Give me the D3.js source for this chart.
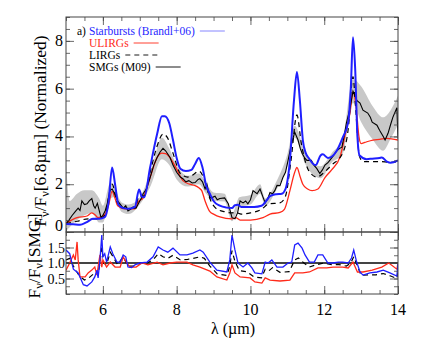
<!DOCTYPE html>
<html>
<head>
<meta charset="utf-8">
<script src="https://cdn.jsdelivr.net/npm/d3@7"></script>
<style>
  body { margin: 0; background: #fff; }
</style>
</head>
<body>
<script>
// ---- data ----
// top panel: flux normalised at 6.8um
const sbWave = [5.0,5.2,5.38,5.55,5.73,5.9,6.05,6.15,6.25,6.33,6.42,6.55,6.7,6.87,6.98,7.05,7.12,7.28,7.47,7.6,7.68,7.8,7.9,8.0,8.1,8.25,8.4,8.5,8.6,8.7,8.8,8.9,9.0,9.17,9.35,9.5,9.58,9.66,9.75,9.9,10.1,10.3,10.45,10.53,10.7,10.85,10.95,11.07,11.18,11.26,11.34,11.42,11.5,11.58,11.7,11.77,11.9,11.96,12.1,12.2,12.34,12.5,12.65,12.72,12.78,12.84,12.9,12.96,13.15,13.3,13.5,13.56,13.7,13.8,14.0]
const sbFlux = [0.34,0.32,0.3,0.4,0.55,0.55,0.62,1.2,2.7,2.0,1.15,1.0,0.97,1.05,1.78,1.5,1.45,2.7,4.1,4.85,4.85,4.55,3.85,3.1,2.65,2.55,2.6,2.85,3.1,2.7,1.95,1.6,1.3,1.1,1.02,1.0,1.12,1.14,1.05,1.05,1.05,1.1,1.35,1.5,1.58,1.6,1.8,3.0,5.5,6.7,5.5,3.85,3.3,3.1,2.85,2.8,3.2,3.25,3.1,3.15,3.4,3.95,4.6,6.0,8.15,6.8,4.0,3.2,3.05,3.07,3.1,3.12,2.95,2.9,3.0]

const ulWave = [5.0,5.15,5.3,5.57,5.7,5.8,5.87,6.06,6.15,6.25,6.32,6.4,6.6,6.87,6.95,7.09,7.28,7.47,7.6,7.7,7.8,7.95,8.17,8.35,8.5,8.6,8.68,8.77,8.9,9.0,9.17,9.5,9.6,9.72,10.0,10.34,10.53,10.8,10.92,11.07,11.2,11.26,11.35,11.42,11.55,11.67,11.83,12.02,12.2,12.43,12.6,12.7,12.78,12.86,12.94,13.0,13.1,13.32,13.5,13.7,14.0]
const ulFlux = [0.38,0.5,0.6,0.67,0.8,0.7,0.6,0.75,1.1,1.7,1.45,1.1,0.97,0.97,1.25,1.43,2.28,3.12,3.3,3.28,3.15,2.78,2.15,2.0,1.94,1.85,1.73,1.3,0.85,0.75,0.63,0.55,0.6,0.5,0.5,0.6,0.75,0.82,0.95,1.73,2.5,2.7,2.3,2.0,1.8,1.73,1.8,2.28,2.6,3.15,4.3,5.0,5.86,5.3,4.0,3.7,3.75,3.85,3.88,3.92,3.85]

const lgWave = [5.0,5.3,5.6,5.9,6.05,6.25,6.4,6.6,6.87,6.98,7.1,7.28,7.47,7.63,7.75,7.9,8.1,8.3,8.45,8.6,8.75,8.9,9.1,9.3,9.5,9.6,9.75,10.0,10.3,10.5,10.8,10.95,11.1,11.26,11.38,11.58,11.8,12.0,12.2,12.5,12.65,12.78,12.86,12.95,13.05,13.2,13.5,13.8,14.0]
const lgFlux = [0.35,0.45,0.55,0.55,0.7,2.0,1.2,1.0,1.0,1.5,1.5,2.5,3.6,4.1,3.95,3.3,2.45,2.3,2.4,2.55,2.2,1.4,0.95,0.85,0.8,0.82,0.75,0.8,0.95,1.18,1.22,1.5,3.0,4.9,3.7,2.57,2.3,2.5,2.8,3.3,4.3,6.5,5.0,3.2,2.95,2.95,2.95,2.92,2.95]

const smWave = [5.0,5.08,5.16,5.25,5.33,5.38,5.43,5.5,5.57,5.63,5.7,5.75,5.79,5.85,5.9,5.95,6.0,6.06,6.12,6.19,6.25,6.32,6.4,6.55,6.62,6.68,6.75,6.82,6.9,7.0,7.05,7.09,7.18,7.28,7.38,7.47,7.55,7.63,7.7,7.82,7.9,8.0,8.1,8.17,8.25,8.33,8.42,8.5,8.58,8.63,8.7,8.77,8.82,8.9,8.97,9.04,9.1,9.17,9.3,9.4,9.5,9.58,9.65,9.72,9.8,9.87,9.93,10.0,10.07,10.18,10.26,10.33,10.4,10.47,10.53,10.6,10.66,10.72,10.8,10.88,10.95,11.02,11.1,11.2,11.29,11.35,11.4,11.47,11.53,11.65,11.72,11.8,11.88,11.95,12.02,12.1,12.15,12.25,12.34,12.42,12.48,12.55,12.6,12.7,12.78,12.89,12.97,13.05,13.18,13.25,13.3,13.43,13.5,13.6,13.65,13.73,13.8,13.86,13.97,14.0]
const smFlux = [0.34,0.5,0.68,0.85,1.0,0.9,1.3,1.15,1.18,1.3,1.4,1.1,1.0,1.2,0.9,0.6,0.7,0.88,1.2,1.73,1.8,1.6,1.3,1.0,1.1,0.88,0.95,1.05,1.0,1.3,1.43,1.6,1.8,2.28,2.8,3.12,3.35,3.5,3.4,3.12,2.8,2.5,2.3,2.23,2.1,2.15,2.05,2.07,2.2,2.23,2.1,1.8,2.0,1.43,1.45,1.5,1.35,1.4,1.43,1.18,0.6,0.55,0.8,1.3,1.22,1.3,1.18,1.35,1.73,1.6,1.8,1.5,1.22,1.4,1.65,1.6,1.73,1.95,1.94,2.28,2.5,3.0,3.6,4.18,3.85,3.5,3.3,3.1,3.0,3.0,2.8,2.65,2.45,2.6,2.8,2.9,3.0,3.2,3.4,3.5,3.55,4.1,4.55,5.2,5.9,5.5,5.4,5.1,4.98,4.8,4.6,4.47,4.26,4.0,3.85,4.13,4.5,4.8,5.2,3.9]

// grey band round the SMG spectrum
const bandWave = [5.0,5.04,5.1,5.3,5.5,5.7,5.9,6.0,6.2,6.3,6.5,6.7,7.0,7.3,7.6,7.8,8.0,8.3,8.6,8.8,9.0,9.3,9.5,9.7,10.0,10.26,10.4,10.7,11.0,11.2,11.5,11.9,12.2,12.5,12.78,13.0,13.3,13.6,13.8,14.0]
const bandLo = [0.0,0.1,0.2,0.5,0.7,0.8,0.4,0.4,1.4,1.45,0.85,0.75,1.15,1.95,3.05,2.8,2.2,1.9,2.0,1.6,1.3,1.28,0.45,1.05,1.15,1.6,1.1,1.75,2.75,3.95,2.8,2.25,2.9,3.25,5.4,4.6,3.9,3.4,3.9,4.5]
const bandHi = [3.6,2.0,1.3,1.6,1.75,1.75,1.4,1.1,2.05,1.9,1.25,1.15,1.45,2.55,3.95,3.5,2.8,2.35,2.45,2.05,1.65,1.6,0.75,1.45,1.55,2.0,1.4,2.1,3.25,4.45,3.25,2.75,3.3,3.9,6.4,6.1,5.3,4.8,5.1,5.7]

// bottom panel: ratio to the SMG spectrum
const sbRatioWave = [5.0,5.1,5.2,5.33,5.47,5.57,5.7,5.78,5.84,5.87,5.92,5.97,6.0,6.05,6.1,6.2,6.27,6.38,6.47,6.55,6.62,6.68,6.78,6.87,7.0,7.2,7.36,7.5,7.63,7.76,7.9,8.09,8.28,8.44,8.63,8.72,8.9,9.09,9.36,9.44,9.5,9.58,9.66,9.8,9.93,10.04,10.12,10.31,10.4,10.48,10.58,10.72,10.88,11.02,11.12,11.2,11.29,11.4,11.48,11.6,11.73,11.83,11.96,12.1,12.24,12.38,12.5,12.65,12.74,12.8,12.88,12.97,13.05,13.24,13.43,13.6,13.78,13.97,14.0]
const sbRatio = [1.42,1.3,0.8,0.68,0.3,0.26,0.39,0.55,0.77,0.52,1.1,1.9,1.2,1.3,1.03,1.52,1.3,1.03,1.03,1.26,1.2,0.87,0.85,0.94,1.0,1.03,1.2,1.52,1.42,1.35,1.48,1.26,1.26,1.32,1.42,1.35,1.03,0.77,0.71,1.1,1.9,1.42,1.0,0.87,1.0,0.84,0.68,0.65,1.03,1.0,1.1,0.87,0.87,1.0,1.03,1.58,1.64,1.48,1.26,1.03,1.03,1.26,1.26,1.0,1.0,1.03,1.03,1.0,1.16,1.42,1.03,0.71,0.61,0.68,0.71,0.77,0.68,0.58,1.0]

const ulRatioWave = [5.0,5.1,5.2,5.25,5.3,5.33,5.38,5.52,5.6,5.7,5.78,5.84,5.87,5.92,5.97,6.0,6.1,6.2,6.33,6.47,6.55,6.65,6.73,6.9,7.06,7.22,7.47,7.63,7.82,8.0,8.28,8.44,8.63,8.9,9.09,9.36,9.44,9.5,9.58,9.72,9.99,10.12,10.31,10.4,10.53,10.8,11.07,11.2,11.42,11.6,11.83,12.07,12.24,12.5,12.65,12.78,12.9,13.05,13.3,13.56,13.75,13.97,14.0]
const ulRatio = [0.77,1.0,1.26,1.1,1.68,1.1,0.55,0.55,0.68,0.77,0.87,0.61,0.87,1.26,0.87,1.1,0.87,1.03,0.87,0.87,1.2,1.0,0.87,0.87,1.0,0.94,1.03,0.94,1.0,1.03,1.03,0.94,0.87,0.74,0.55,0.45,0.68,0.94,0.68,0.55,0.52,0.39,0.35,0.52,0.45,0.42,0.45,0.68,0.68,0.71,0.84,0.84,0.87,0.87,0.84,1.03,0.71,0.71,0.77,0.87,1.0,0.8,1.0]

const lgRatioWave = [5.0,5.1,5.2,5.35,5.5,5.6,5.7,5.8,5.87,5.92,5.97,6.02,6.1,6.2,6.3,6.4,6.55,6.68,6.85,7.0,7.2,7.36,7.5,7.63,7.76,7.9,8.1,8.3,8.45,8.63,8.75,8.9,9.1,9.36,9.44,9.5,9.58,9.7,9.9,10.1,10.3,10.4,10.5,10.6,10.8,11.05,11.2,11.3,11.45,11.6,11.8,12.0,12.2,12.4,12.6,12.72,12.8,12.9,13.0,13.2,13.4,13.6,13.8,13.97,14.0]
const lgRatio = [1.1,1.15,0.9,0.6,0.45,0.5,0.6,0.7,0.6,1.0,1.5,1.0,0.95,1.35,1.15,0.95,1.2,0.9,0.9,1.0,1.0,1.1,1.3,1.2,1.15,1.25,1.1,1.12,1.15,1.2,1.15,0.9,0.65,0.6,0.9,1.4,1.05,0.75,0.72,0.55,0.52,0.8,0.75,0.85,0.7,0.72,1.1,1.16,1.0,0.87,0.95,1.0,0.95,0.95,0.9,1.0,1.2,0.9,0.6,0.62,0.62,0.66,0.58,0.5,0.75]

const xTicks = [6, 8, 10, 12, 14]
const topTicks = [0, 2, 4, 6, 8]
const botTicks = [0.5, 1.0, 1.5]

const legendItems = [
    {label: "Starbursts (Brandl+06)", color: "#1f1fff", dash: null, len: 25},
    {label: "ULIRGs", color: "#ff2a1a", dash: null, len: 25},
    {label: "LIRGs", color: "#000", dash: "5,4", len: 33},
    {label: "SMGs (M09)", color: "#000", dash: null, len: 25}
]

// ---- layout ----
const width = 443, height = 346
const left = 66, right = 398
const topY0 = 17, topY1 = 232, botY1 = 294
const serif = "'Liberation Serif', 'Times New Roman', Tinos, 'DejaVu Serif', serif"

let svg = d3.select("body").append("svg")
    .attr("width", width)
    .attr("height", height)
    .attr("font-family", serif)
    .style("font-family", serif)

let x = d3.scaleLinear().domain([5, 14]).range([left, right])
let yTop = d3.scaleLinear().domain([0, 9]).range([topY1, topY0])
let yBot = d3.scaleLinear().domain([0, 2]).range([botY1, topY1])

svg.append("clipPath").attr("id", "clipTop")
    .append("rect").attr("x", left).attr("y", topY0).attr("width", right - left).attr("height", topY1 - topY0)
svg.append("clipPath").attr("id", "clipBot")
    .append("rect").attr("x", left).attr("y", topY1).attr("width", right - left).attr("height", botY1 - topY1)

function zipped(w, v) { return w.map((d, i) => [d, v[i]]) }

// ---- top panel ----
let topPanel = svg.append("g").attr("clip-path", "url(#clipTop)")

let band = bandWave.map((d, i) => ({w: d, lo: bandLo[i], hi: bandHi[i]}))
topPanel.append("path")
    .datum(band)
    .attr("fill", "#c8c8c8")
    .attr("d", d3.area().x(d => x(d.w)).y0(d => yTop(d.lo)).y1(d => yTop(d.hi)).curve(d3.curveMonotoneX))

let smoothTop = d3.line().x(d => x(d[0])).y(d => yTop(d[1])).curve(d3.curveMonotoneX)
let rawTop = d3.line().x(d => x(d[0])).y(d => yTop(d[1]))

topPanel.append("path").datum(zipped(ulWave, ulFlux))
    .attr("fill", "none").attr("stroke", "#ff2a1a").attr("stroke-width", 1.3).attr("d", smoothTop)
topPanel.append("path").datum(zipped(lgWave, lgFlux))
    .attr("fill", "none").attr("stroke", "#000").attr("stroke-width", 1.2)
    .attr("stroke-dasharray", "5,4").attr("d", smoothTop)
topPanel.append("path").datum(zipped(smWave, smFlux))
    .attr("fill", "none").attr("stroke", "#000").attr("stroke-width", 1.1).attr("d", rawTop)
topPanel.append("path").datum(zipped(sbWave, sbFlux))
    .attr("fill", "none").attr("stroke", "#1f1fff").attr("stroke-width", 2).attr("d", smoothTop)

// ---- bottom panel ----
let botPanel = svg.append("g").attr("clip-path", "url(#clipBot)")

botPanel.append("line")
    .attr("x1", left).attr("x2", right)
    .attr("y1", yBot(1)).attr("y2", yBot(1))
    .attr("stroke", "#444").attr("stroke-width", 2.2)

let ratioLine = d3.line().x(d => x(d[0])).y(d => yBot(d[1]))

botPanel.append("path").datum(zipped(lgRatioWave, lgRatio))
    .attr("fill", "none").attr("stroke", "#000").attr("stroke-width", 1.2)
    .attr("stroke-dasharray", "5,4").attr("d", ratioLine)
botPanel.append("path").datum(zipped(ulRatioWave, ulRatio))
    .attr("fill", "none").attr("stroke", "#ff2a1a").attr("stroke-width", 1.3).attr("d", ratioLine)
botPanel.append("path").datum(zipped(sbRatioWave, sbRatio))
    .attr("fill", "none").attr("stroke", "#1f1fff").attr("stroke-width", 1.3).attr("d", ratioLine)

// ---- axes: inward ticks on every side ----
function tickAxis(axisFn, scale, values, size) {
    return axisFn(scale).tickValues(values).tickSize(size).tickFormat("")
}

function frame(y0, y1, yScale, majors, minors) {
    let g = svg.append("g").attr("class", "frame")
    g.append("g").attr("transform", `translate(0,${y1})`).call(tickAxis(d3.axisBottom, x, xTicks, -8))
    g.append("g").attr("transform", `translate(0,${y1})`).call(tickAxis(d3.axisBottom, x, d3.range(5, 14.01, 0.5), -4))
    g.append("g").attr("transform", `translate(0,${y0})`).call(tickAxis(d3.axisTop, x, xTicks, -8))
    g.append("g").attr("transform", `translate(0,${y0})`).call(tickAxis(d3.axisTop, x, d3.range(5, 14.01, 0.5), -4))
    g.append("g").attr("transform", `translate(${left},0)`).call(tickAxis(d3.axisLeft, yScale, majors, -8))
    g.append("g").attr("transform", `translate(${left},0)`).call(tickAxis(d3.axisLeft, yScale, minors, -4))
    g.append("g").attr("transform", `translate(${right},0)`).call(tickAxis(d3.axisRight, yScale, majors, -8))
    g.append("g").attr("transform", `translate(${right},0)`).call(tickAxis(d3.axisRight, yScale, minors, -4))
    g.selectAll(".domain").remove()
    g.selectAll(".tick line").attr("stroke", "#444").attr("stroke-width", 0.8)
    g.append("rect")
        .attr("x", left).attr("y", y0).attr("width", right - left).attr("height", y1 - y0)
        .attr("fill", "none").attr("stroke", "#444").attr("stroke-width", 1)
}

frame(topY0, topY1, yTop, topTicks, d3.range(0, 9.01, 0.5))
frame(topY1, botY1, yBot, botTicks, d3.range(0, 2.01, 0.25))

// tick labels
svg.append("g").selectAll("text").data(topTicks).enter()
    .append("text")
    .attr("x", 63)
    .attr("y", d => yTop(d) + (d === 0 ? -1 : 5))
    .attr("text-anchor", "end")
    .style("font-size", "16px")
    .text(d => d)

svg.append("g").selectAll("text").data(botTicks).enter()
    .append("text")
    .attr("x", 65)
    .attr("y", d => yBot(d) + 5)
    .attr("text-anchor", "end")
    .style("font-size", "14px")
    .text(d => d3.format(".1f")(d))

svg.append("g").selectAll("text").data(xTicks).enter()
    .append("text")
    .attr("x", d => x(d))
    .attr("y", 315)
    .attr("text-anchor", "middle")
    .style("font-size", "16px")
    .text(d => d)

svg.append("text")
    .attr("x", 233).attr("y", 334)
    .attr("text-anchor", "middle")
    .style("font-size", "16px")
    .text("λ (µm)")

// y titles with subscript nu
function fnuTitle(cx, cy, tail, size) {
    let t = svg.append("text")
        .attr("transform", `translate(${cx},${cy}) rotate(-90)`)
        .attr("text-anchor", "middle")
        .style("font-size", size + "px")
    t.append("tspan").text("F")
    t.append("tspan").attr("dy", 3).style("font-size", (size * 0.7) + "px").text("ν")
    t.append("tspan").attr("dy", -3).text("/F")
    t.append("tspan").attr("dy", 3).style("font-size", (size * 0.7) + "px").text("ν")
    t.append("tspan").attr("dy", -3).text(tail)
}
fnuTitle(46, 131, "[6.8µm] (Normalized)", 17.5)
fnuTitle(40, 256, "[SMG]", 17.5)

// ---- legend ----
let legend = svg.append("g").style("font-size", "11.5px")
legend.append("text").attr("x", 77).attr("y", 35).text("a)")
legendItems.forEach(function(d, i) {
    let ty = 35 + i * 12
    let label = legend.append("text")
        .attr("x", 89).attr("y", ty)
        .attr("fill", d.color)
        .text(d.label)
    let w = label.node().getComputedTextLength()
    legend.append("line")
        .attr("x1", 89 + w + 5).attr("x2", 89 + w + 5 + d.len)
        .attr("y1", ty - 4).attr("y2", ty - 4)
        .attr("stroke", d.color)
        .attr("stroke-width", 0.9)
        .attr("stroke-opacity", i === 0 ? 0.6 : 1)
        .attr("stroke-dasharray", d.dash)
})
</script>
</body>
</html>
